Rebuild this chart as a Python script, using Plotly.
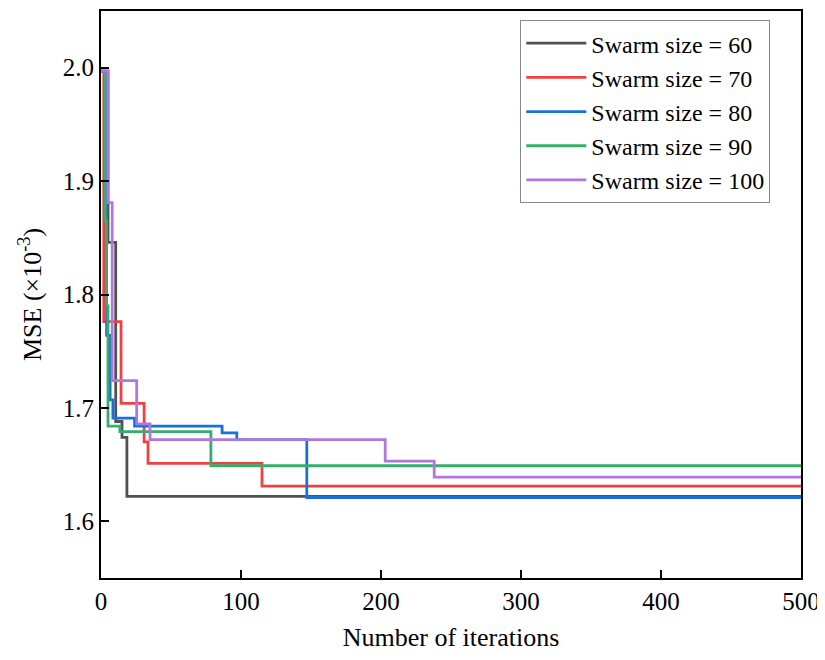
import plotly.graph_objects as go

# Iteration at which each step begins, and MSE (x1e-3) value from then on
iter_60 = [0, 5, 10.5, 15, 18.5, 500]
mse_60 = [1.997, 1.846, 1.688, 1.674, 1.622, 1.622]

iter_70 = [0, 2, 14.3, 30.8, 33.6, 115, 500]
mse_70 = [1.997, 1.776, 1.704, 1.670, 1.651, 1.631, 1.631]

iter_80 = [0, 4, 6.5, 8.5, 24, 86.5, 97, 147, 500]
mse_80 = [1.997, 1.764, 1.707, 1.691, 1.684, 1.678, 1.672, 1.621, 1.621]

iter_90 = [0, 3, 4, 5, 13.5, 78.5, 500]
mse_90 = [1.997, 1.865, 1.79, 1.684, 1.679, 1.649, 1.649]

iter_100 = [0, 5, 8, 25.5, 35, 203, 238, 500]
mse_100 = [1.997, 1.881, 1.724, 1.686, 1.672, 1.653, 1.639, 1.639]

names = ["Swarm size = 60", "Swarm size = 70", "Swarm size = 80",
         "Swarm size = 90", "Swarm size = 100"]
colors = ["#515151", "#F14040", "#1A6FDF", "#37AD6B", "#B177DE"]
series = [(iter_60, mse_60), (iter_70, mse_70), (iter_80, mse_80),
          (iter_90, mse_90), (iter_100, mse_100)]

fig = go.Figure()
for (xs, ys), name, c in zip(series, names, colors):
    fig.add_trace(go.Scatter(x=xs, y=ys, mode="lines", name=name,
                             line=dict(color=c, width=2.8, shape="hv")))

font = "Liberation Serif, Times New Roman, serif"
axis_common = dict(showgrid=False, zeroline=False, showline=True,
                   linecolor="black", linewidth=2, mirror=True,
                   ticks="inside", ticklen=8, tickwidth=2, tickcolor="black",
                   tickfont=dict(family=font, size=25, color="black"))

fig.update_layout(
    width=817, height=652,
    margin=dict(l=93, r=24, t=1, b=82),
    plot_bgcolor="white", paper_bgcolor="white",
    font=dict(family=font, size=25, color="black"),
    xaxis=dict(range=[0, 500], tickvals=[0, 100, 200, 300, 400, 500],
               title=dict(text="Number of iterations",
                          font=dict(family=font, size=26), standoff=14),
               **axis_common),
    yaxis=dict(range=[1.55, 2.05], tickvals=[1.6, 1.7, 1.8, 1.9, 2.0],
               tickformat=".1f",
               title=dict(text="MSE (×10<sup>-3</sup>)",
                          font=dict(family=font, size=26), standoff=14),
               **axis_common),
    legend=dict(x=0.599, y=0.984, xanchor="left", yanchor="top",
                bgcolor="white", bordercolor="#888888", borderwidth=1,
                font=dict(family=font, size=24, color="black"),
                itemwidth=60, tracegroupgap=0),
    showlegend=True,
)

fig.write_html("out.html")
